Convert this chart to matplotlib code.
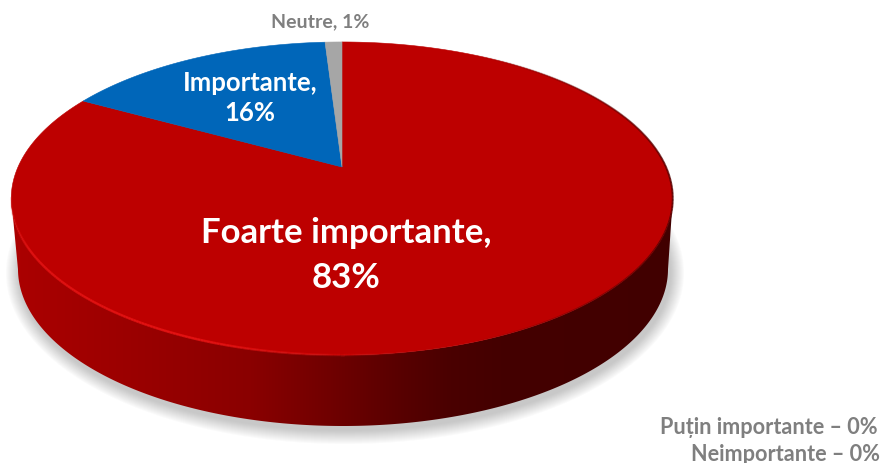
import matplotlib
matplotlib.use('Agg')
import matplotlib.pyplot as plt
from matplotlib.collections import LineCollection
from matplotlib.patches import Polygon, Ellipse
import numpy as np

# --- dados ---
labels = ['Foarte importante', 'Importante', 'Neutre']
values = [83, 16, 1]
colors = ['#bd0000', '#0066b9', '#a6a6a6']
zero_notes = ['Puțin importante – 0%', 'Neimportante – 0%']

plt.rcParams['font.family'] = ['Lato', 'DejaVu Sans']

# --- geometria do disco em perspectiva (pixels) ---
apex_x, apex_y = 342, 168
persp = 0.2013
rx_top, ry_top = 324, 150.2
# elipse de baixo
low_cx, low_cy, low_rx, low_ry = 343, 270, 325, 157


def project(x, y):
    w = 1 + persp * y
    return apex_x + rx_top * x / w, apex_y - ry_top * y / w


def wedge(start, stop):
    # fração do círculo, sentido horário a partir do topo
    th = np.linspace(start, stop, max(int((stop - start) * 400), 8)) * 2 * np.pi
    px, py = project(np.sin(th), np.cos(th))
    return np.column_stack([np.r_[apex_x, px], np.r_[apex_y, py]])


fig = plt.figure(figsize=(8.83, 4.64), dpi=100)
ax = fig.add_axes([0, 0, 1, 1])
ax.axis('off')

# --- sombra ---
for i in range(14):
    grow = 14 - i
    ax.add_patch(Ellipse((low_cx + 2, low_cy + 4), 2 * (low_rx + grow), 2 * (low_ry + grow),
                         facecolor='#505050', edgecolor='none', alpha=0.022, zorder=1))

# --- lateral com gradiente ---
th = np.linspace(0, 2 * np.pi, 720)
top_x, top_y = project(np.sin(th), np.cos(th))
low_x = low_cx + low_rx * np.sin(th)
low_y = low_cy - low_ry * np.cos(th)
grad_x = [0, 20, 130, 250, 330, 400, 450, 500, 883]
grad_r = [172, 170, 155, 138, 112, 88, 74, 68, 62]
ramp = np.interp(np.arange(883), grad_x, grad_r) / 255
img = np.zeros((1, 883, 3))
img[0, :, 0] = ramp
side_img = ax.imshow(img, extent=(0, 883, 464, 0), aspect='auto', zorder=2)
# contorno lateral: metade inferior das duas elipses
left_idx = np.argmin(low_x)
right_idx = np.argmax(low_x)
low_arc = np.column_stack([low_x[right_idx:left_idx + 1], low_y[right_idx:left_idx + 1]])
t_left = np.argmin(top_x)
t_right = np.argmax(top_x)
top_arc = np.column_stack([top_x[t_right:t_left + 1], top_y[t_right:t_left + 1]])
side_poly = Polygon(np.vstack([low_arc, top_arc[::-1]]), closed=True, transform=ax.transData,
                    facecolor='none', edgecolor='none')
ax.add_patch(side_poly)
side_img.set_clip_path(side_poly)

# --- fatias ---
start = 0
total = sum(values)
for v, c in zip(values, colors):
    stop = start + v / total
    ax.add_patch(Polygon(wedge(start, stop), closed=True, facecolor=c, edgecolor=c,
                         linewidth=0.4, zorder=3))
    start = stop

# --- brilho na borda esquerda, linha escura na direita ---
pts = np.column_stack([top_x, top_y])
segs = np.stack([pts[:-1], pts[1:]], axis=1)
mid_x = segs[:, :, 0].mean(axis=1)
mid_y = segs[:, :, 1].mean(axis=1)
front = mid_y > 198
hl = np.interp(mid_x, [10, 30, 200, 340, 420], [0.1, 0.7, 0.8, 0.25, 0]) * front
seg_col = np.zeros((len(segs), 4))
seg_col[:, 0] = 0.93
seg_col[:, 1] = 0.08
seg_col[:, 2] = 0.08
seg_col[:, 3] = hl
ax.add_collection(LineCollection(segs, colors=seg_col, linewidths=1.8, zorder=4))
dark = np.zeros((len(segs), 4))
dark[:, 0] = 0.3
dark[:, 3] = np.interp(mid_x, [470, 620, 672], [0, 0.55, 0.8])
ax.add_collection(LineCollection(segs, colors=dark, linewidths=1.4, zorder=4))

# --- textos ---
ax.text(346, 256, f'{labels[0]},\n{values[0]}%', color='white', fontsize=25, fontweight='bold',
        ha='center', va='center', linespacing=1.5, zorder=5)
ax.text(250, 98, f'{labels[1]},\n{values[1]}%', color='white', fontsize=18.5, fontweight='bold',
        ha='center', va='center', linespacing=1.3, zorder=5)
ax.text(320, 22, f'{labels[2]}, {values[2]}%', color='#7f7f7f', fontsize=14, fontweight='bold',
        ha='center', va='center', zorder=5)
ax.text(878, 428, zero_notes[0], color='#7f7f7f', fontsize=15.6, fontweight='bold',
        ha='right', va='center', zorder=5)
ax.text(880, 455, zero_notes[1], color='#7f7f7f', fontsize=15.6, fontweight='bold',
        ha='right', va='center', zorder=5)

ax.set_xlim(0, 883)
ax.set_ylim(464, 0)
fig.savefig('out.png', dpi=100)
